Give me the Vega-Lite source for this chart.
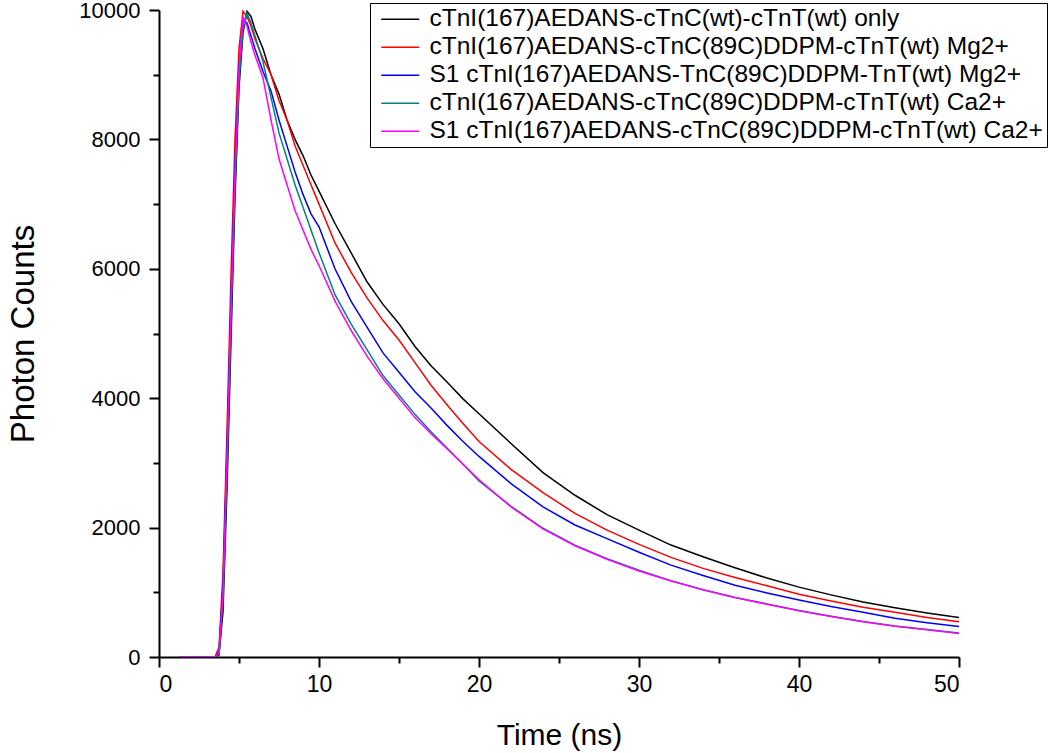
{
  "$schema": "https://vega.github.io/schema/vega-lite/v6.json",
  "width": 800,
  "height": 647,
  "autosize": "none",
  "padding": {"left": 159, "top": 10, "right": 91, "bottom": 96},
  "background": "white",
  "config": {"view": {"stroke": null}, "font": "Liberation Sans"},
  "data": {"values": [
    {"t": 1.3, "k": 0, "r": 0, "b": 0, "g": 0, "m": 0},
    {"t": 2, "k": 0, "r": 0, "b": 0, "g": 0, "m": 0},
    {"t": 3, "k": 0, "r": 0, "b": 0, "g": 0, "m": 0},
    {"t": 3.5, "k": 0, "r": 0, "b": 0, "g": 0, "m": 0},
    {"t": 3.75, "k": 30, "r": 150, "b": 80, "g": 50, "m": 60},
    {"t": 4, "k": 700, "r": 1300, "b": 1100, "g": 900, "m": 1000},
    {"t": 4.25, "k": 2600, "r": 3500, "b": 3200, "g": 2900, "m": 3100},
    {"t": 4.5, "k": 4900, "r": 5900, "b": 5500, "g": 5200, "m": 5400},
    {"t": 4.75, "k": 7100, "r": 8000, "b": 7600, "g": 7300, "m": 7500},
    {"t": 5, "k": 8800, "r": 9400, "b": 9100, "g": 8900, "m": 9100},
    {"t": 5.25, "k": 9650, "r": 9980, "b": 9850, "g": 9700, "m": 9900},
    {"t": 5.5, "k": 9980, "r": 9900, "b": 9800, "g": 9950, "m": 9750},
    {"t": 5.75, "k": 9900, "r": 9750, "b": 9600, "g": 9800, "m": 9500},
    {"t": 6, "k": 9700, "r": 9550, "b": 9400, "g": 9600, "m": 9300},
    {"t": 6.5, "k": 9400, "r": 9250, "b": 9050, "g": 9200, "m": 8950},
    {"t": 7, "k": 9000, "r": 9000, "b": 8750, "g": 8650, "m": 8300},
    {"t": 7.5, "k": 8700, "r": 8600, "b": 8300, "g": 8100, "m": 7700},
    {"t": 8, "k": 8300, "r": 8300, "b": 7900, "g": 7700, "m": 7300},
    {"t": 8.5, "k": 8000, "r": 7900, "b": 7500, "g": 7300, "m": 6900},
    {"t": 9, "k": 7750, "r": 7600, "b": 7150, "g": 6950, "m": 6600},
    {"t": 9.5, "k": 7450, "r": 7300, "b": 6850, "g": 6600, "m": 6300},
    {"t": 10, "k": 7200, "r": 7000, "b": 6650, "g": 6250, "m": 6050},
    {"t": 11, "k": 6700, "r": 6400, "b": 6000, "g": 5600, "m": 5500},
    {"t": 12, "k": 6250, "r": 5950, "b": 5500, "g": 5150, "m": 5050},
    {"t": 13, "k": 5800, "r": 5550, "b": 5100, "g": 4750, "m": 4650},
    {"t": 14, "k": 5450, "r": 5200, "b": 4700, "g": 4350, "m": 4300},
    {"t": 15, "k": 5150, "r": 4900, "b": 4400, "g": 4050, "m": 4000},
    {"t": 16, "k": 4800, "r": 4550, "b": 4100, "g": 3750, "m": 3700},
    {"t": 17, "k": 4500, "r": 4200, "b": 3850, "g": 3480, "m": 3450},
    {"t": 18, "k": 4250, "r": 3900, "b": 3580, "g": 3230, "m": 3220},
    {"t": 19, "k": 3990, "r": 3610, "b": 3330, "g": 2980, "m": 2980},
    {"t": 20, "k": 3760, "r": 3330, "b": 3100, "g": 2720, "m": 2740},
    {"t": 22, "k": 3300, "r": 2900, "b": 2680, "g": 2330, "m": 2320},
    {"t": 24, "k": 2850, "r": 2540, "b": 2320, "g": 1990, "m": 1980},
    {"t": 26, "k": 2500, "r": 2220, "b": 2040, "g": 1730, "m": 1720},
    {"t": 28, "k": 2200, "r": 1960, "b": 1830, "g": 1520, "m": 1510},
    {"t": 30, "k": 1960, "r": 1740, "b": 1620, "g": 1340, "m": 1330},
    {"t": 32, "k": 1730, "r": 1540, "b": 1420, "g": 1180, "m": 1175},
    {"t": 34, "k": 1550, "r": 1370, "b": 1260, "g": 1040, "m": 1040},
    {"t": 36, "k": 1380, "r": 1230, "b": 1110, "g": 920, "m": 920},
    {"t": 38, "k": 1220, "r": 1100, "b": 990, "g": 820, "m": 815},
    {"t": 40, "k": 1080, "r": 970, "b": 880, "g": 720, "m": 715},
    {"t": 42, "k": 960, "r": 865, "b": 780, "g": 630, "m": 625},
    {"t": 44, "k": 850, "r": 770, "b": 690, "g": 550, "m": 545},
    {"t": 46, "k": 760, "r": 690, "b": 600, "g": 480, "m": 475},
    {"t": 48, "k": 680, "r": 610, "b": 530, "g": 425, "m": 420},
    {"t": 50, "k": 610, "r": 545, "b": 470, "g": 370, "m": 365}
  ]},
  "transform": [{"fold": ["k", "r", "b", "g", "m"], "as": ["s", "v"]}],
  "mark": {"type": "line", "strokeWidth": 1.5, "clip": true},
  "encoding": {
    "x": {
      "field": "t", "type": "quantitative",
      "scale": {"domain": [0, 50], "nice": false, "zero": false},
      "axis": {
        "title": "Time (ns)",
        "values": [0, 5, 10, 15, 20, 25, 30, 35, 40, 45, 50],
        "labelExpr": "datum.value % 10 == 0 ? datum.label : ''",
        "tickSize": {"condition": {"test": "datum.value % 10 == 0", "value": 10}, "value": 6},
        "grid": false,
        "domainColor": "black", "domainWidth": 2,
        "tickColor": "black", "tickWidth": 2,
        "labelFontSize": 23, "labelColor": "black", "labelPadding": 6,
        "labelFont": "Liberation Sans",
        "titleFontSize": 30, "titleFontWeight": "normal", "titleColor": "black",
        "titleFont": "Liberation Sans", "titlePadding": 24
      }
    },
    "y": {
      "field": "v", "type": "quantitative",
      "scale": {"domain": [0, 10000], "nice": false},
      "axis": {
        "title": "Photon Counts",
        "values": [0, 1000, 2000, 3000, 4000, 5000, 6000, 7000, 8000, 9000, 10000],
        "labelExpr": "datum.value % 2000 == 0 ? format(datum.value, 'd') : ''",
        "tickSize": {"condition": {"test": "datum.value % 2000 == 0", "value": 10}, "value": 6},
        "grid": false,
        "domainColor": "black", "domainWidth": 2,
        "tickColor": "black", "tickWidth": 2,
        "labelFontSize": 22, "labelColor": "black", "labelPadding": 9,
        "labelFont": "Liberation Sans",
        "titleFontSize": 33, "titleFontWeight": "normal", "titleColor": "black",
        "titleFont": "Liberation Sans", "titlePadding": 38
      }
    },
    "color": {
      "field": "s", "type": "nominal",
      "scale": {"domain": ["k", "r", "b", "g", "m"], "range": ["#000000", "#ff0000", "#0000ff", "#008080", "#ff00ff"]},
      "legend": {
        "title": null,
        "orient": "none",
        "legendX": 211,
        "legendY": -7,
        "strokeColor": "black",
        "fillColor": "white",
        "padding": 4,
        "symbolOffset": 14,
        "symbolType": "M-2,0H2",
        "symbolSize": 361,
        "symbolStrokeWidth": 1.5,
        "rowPadding": 3,
        "labelFontSize": 24.5,
        "labelFont": "Liberation Sans",
        "labelColor": "black",
        "labelLimit": 900,
        "labelOffset": 17,
        "labelExpr": "{'k': 'cTnI(167)AEDANS-cTnC(wt)-cTnT(wt) only', 'r': 'cTnI(167)AEDANS-cTnC(89C)DDPM-cTnT(wt) Mg2+', 'b': 'S1 cTnI(167)AEDANS-TnC(89C)DDPM-TnT(wt) Mg2+', 'g': 'cTnI(167)AEDANS-cTnC(89C)DDPM-cTnT(wt) Ca2+', 'm': 'S1 cTnI(167)AEDANS-cTnC(89C)DDPM-cTnT(wt) Ca2+'}[datum.label]"
      }
    }
  }
}
